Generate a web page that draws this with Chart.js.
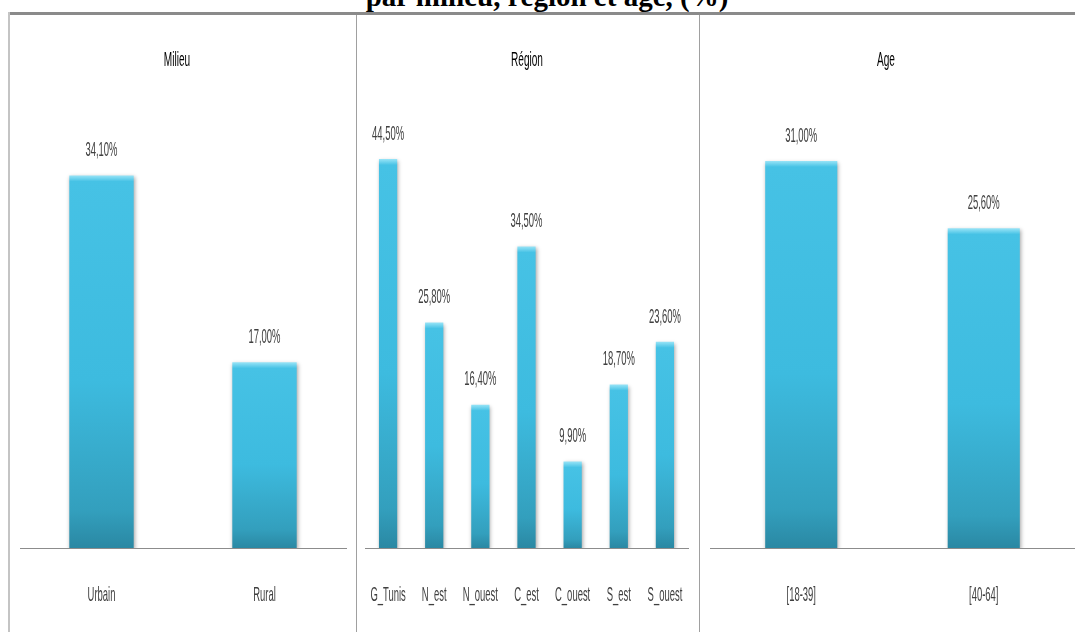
<!DOCTYPE html>
<html>
<head>
<meta charset="utf-8">
<script src="https://cdn.jsdelivr.net/npm/chart.js@4.4.1/dist/chart.umd.min.js"></script>
<style>
  html, body { margin: 0; padding: 0; background: #ffffff; }
  body { width: 1075px; height: 632px; position: relative; overflow: hidden; }
  #title { position: absolute; left: 0; width: 1094px; top: -21px; text-align: center;
           font-family: "Liberation Serif", "Times New Roman", serif; font-weight: bold; font-size: 29px;
           color: #000; line-height: 34px; white-space: nowrap; }
  #topline { position: absolute; left: 8px; top: 12px; width: 1067px; height: 3px; background: #8a8a8a; }
  #leftline { position: absolute; left: 8px; top: 12px; width: 2px; height: 620px; background: #c4c4c4; }
  .div { position: absolute; top: 15px; width: 1px; height: 617px; background: #a0a0a0; }
  .panel { position: absolute; top: 15px; height: 617px; }
</style>
</head>
<body>
<div id="title">par milieu, région et âge, (%)</div>
<div id="topline"></div>
<div id="leftline"></div>
<div class="div" style="left:356px"></div>
<div class="div" style="left:699px"></div>
<div class="panel" style="left:10px;width:346px"><canvas id="c1" width="346" height="617"></canvas></div>
<div class="panel" style="left:357px;width:342px"><canvas id="c2" width="342" height="617"></canvas></div>
<div class="panel" style="left:700px;width:375px"><canvas id="c3" width="375" height="617"></canvas></div>
<script>
// ---- Data ----
const milieuTitle = "Milieu";
const milieuLabels = ["Urbain", "Rural"];
const milieuValues = [34.1, 17.0];

const regionTitle = "Région";
const regionLabels = ["G_Tunis", "N_est", "N_ouest", "C_est", "C_ouest", "S_est", "S_ouest"];
const regionValues = [44.5, 25.8, 16.4, 34.5, 9.9, 18.7, 23.6];

const ageTitle = "Age";
const ageLabels = ["[18-39]", "[40-64]"];
const ageValues = [31.0, 25.6];

// ---- helpers ----
function fmtPct(v) { return v.toFixed(2).replace('.', ',') + '%'; }

function drawCondensed(ctx, text, x, y, size, color, sx) {
  ctx.save();
  ctx.translate(x, y);
  ctx.scale(sx, 1);
  ctx.font = size + 'px "Liberation Sans", Arial, sans-serif';
  ctx.fillStyle = color;
  ctx.textAlign = 'center';
  ctx.textBaseline = 'middle';
  ctx.fillText(text, 0, 0);
  ctx.restore();
}

const textPlugin = {
  id: 'condensedText',
  beforeDatasetsDraw(chart) {
    const ctx = chart.ctx;
    ctx.save();
    ctx.shadowColor = 'rgba(0,0,0,0.35)';
    ctx.shadowBlur = 4;
    ctx.shadowOffsetX = 1;
    ctx.shadowOffsetY = 2;
  },
  afterDatasetsDraw(chart) {
    chart.ctx.restore();
  },
  afterDraw(chart) {
    const ctx = chart.ctx;
    const opts = chart.options.plugins.condensedText;
    const xs = chart.scales.x;
    const area = chart.chartArea;
    chart.data.labels.forEach((lab, i) => {
      drawCondensed(ctx, lab, xs.getPixelForValue(i), area.bottom + 47, 21, '#404040', 0.45);
    });
    const meta = chart.getDatasetMeta(0);
    const vals = chart.data.datasets[0].data;
    meta.data.forEach((el, i) => {
      drawCondensed(ctx, fmtPct(vals[i]), el.x, el.y - 25, 21, '#404040', 0.45);
    });
    drawCondensed(ctx, opts.title, opts.titleX, 45, 21, '#000000', 0.48);
  }
};

function barFill(c) {
  const chart = c.chart;
  if (!chart.chartArea || c.type !== 'data' || !c.parsed) return '#3dbde2';
  const ys = chart.scales.y;
  const top = ys.getPixelForValue(c.parsed.y);
  const bot = ys.getPixelForValue(0);
  const h = Math.max(1, bot - top);
  const g = chart.ctx.createLinearGradient(0, top, 0, bot);
  const f = Math.min(0.3, 6 / h);
  g.addColorStop(0, '#98e4f7');
  g.addColorStop(f, '#46c2e5');
  g.addColorStop(0.55, '#3dbbdf');
  g.addColorStop(0.9, '#339fbd');
  g.addColorStop(1, '#2a88a3');
  return g;
}

function makeChart(id, labels, values, yMax, title, titleX, padL, padR) {
  return new Chart(document.getElementById(id), {
    type: 'bar',
    data: {
      labels: labels,
      datasets: [{
        data: values,
        backgroundColor: barFill,
        borderWidth: 0,
        categoryPercentage: 1.0,
        barPercentage: 0.395
      }]
    },
    options: {
      responsive: false,
      animation: false,
      layout: { padding: { top: 96, left: padL, right: padR, bottom: 0 } },
      plugins: {
        legend: { display: false },
        tooltip: { enabled: false },
        title: { display: false },
        condensedText: { title: title, titleX: titleX }
      },
      scales: {
        x: {
          grid: { display: false, drawTicks: false },
          border: { display: true, color: '#8c8c8c', width: 1 },
          ticks: { display: false },
          afterFit(scale) { scale.height = 84; }
        },
        y: {
          display: false,
          min: 0,
          max: yMax
        }
      }
    },
    plugins: [textPlugin]
  });
}

makeChart('c1', milieuLabels, milieuValues, 40, milieuTitle, 167, 10, 10);
makeChart('c2', regionLabels, regionValues, 50, regionTitle, 170, 8, 11);
makeChart('c3', ageLabels, ageValues, 35, ageTitle, 186, 10, 0);
</script>
</body>
</html>
